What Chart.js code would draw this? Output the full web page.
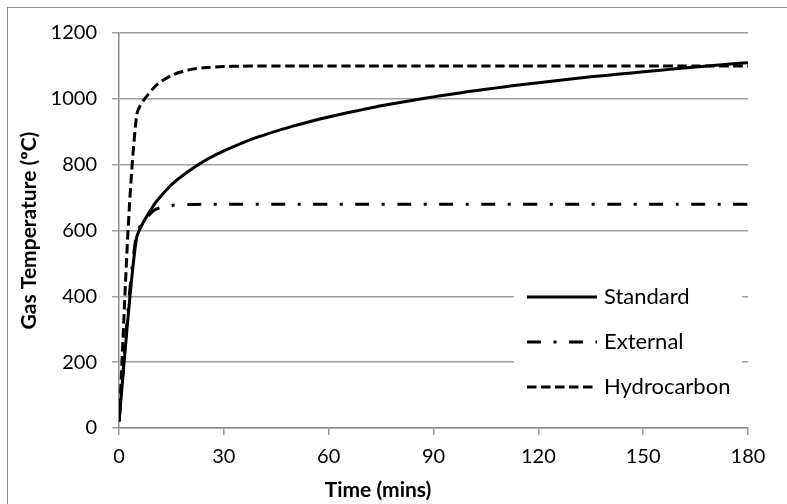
<!DOCTYPE html>
<html>
<head>
<meta charset="utf-8">
<script src="https://cdn.jsdelivr.net/npm/chart.js@4/dist/chart.umd.min.js"></script>
<style>
  html, body { margin: 0; padding: 0; background: #fff; overflow: hidden; }
  #wrap { position: relative; width: 787px; height: 504px; overflow: hidden; }
  #frame { position: absolute; left: 7px; top: 7px; width: 900px; height: 600px; border: 1px solid #8c8c8c; box-sizing: border-box; }
  canvas { position: absolute; left: 0; top: 0; }
</style>
</head>
<body>
<div id="wrap">
  <div id="frame"></div>
  <canvas id="chart" width="787" height="504"></canvas>
</div>
<script>
// time in minutes, every 5 min
const times = [0, 5, 10, 15, 20, 25, 30, 35, 40, 45, 50, 55, 60, 65, 70, 75, 80, 85, 90,
  95, 100, 105, 110, 115, 120, 125, 130, 135, 140, 145, 150, 155, 160, 165, 170, 175, 180];

const standard = [20, 576, 678, 739, 781, 815, 842, 865, 885, 902, 918, 932, 945, 957, 968, 979, 988, 997, 1006,
  1014, 1022, 1029, 1036, 1043, 1049, 1055, 1061, 1067, 1072, 1077, 1082, 1087, 1092, 1097, 1101, 1106, 1110];

const external = [20, 588, 661, 676, 679, 680, 680, 680, 680, 680, 680, 680, 680, 680, 680, 680, 680, 680, 680,
  680, 680, 680, 680, 680, 680, 680, 680, 680, 680, 680, 680, 680, 680, 680, 680, 680, 680];

const hydrocarbon = [20, 948, 1034, 1071, 1088, 1095, 1098, 1099, 1100, 1100, 1100, 1100, 1100, 1100, 1100, 1100, 1100, 1100, 1100,
  1100, 1100, 1100, 1100, 1100, 1100, 1100, 1100, 1100, 1100, 1100, 1100, 1100, 1100, 1100, 1100, 1100, 1100];

const seriesNames = ["Standard", "External", "Hydrocarbon"];
const xTitle = "Time (mins)";
const yTitle = "Gas Temperature (ºC)";

const FONT = "Lato";

function points(values) {
  return times.map((t, i) => ({ x: t, y: values[i] }));
}

function lineSet(label, values, dash, tension) {
  return {
    label: label,
    data: points(values),
    borderColor: "#000000",
    borderWidth: 3,
    borderDash: dash,
    borderCapStyle: "butt",
    pointRadius: 0,
    fill: false,
    tension: tension,
  };
}

// legend drawn inside the plot, on a white box
const insideLegend = {
  id: "insideLegend",
  afterDraw(chart) {
    const ctx = chart.ctx;
    ctx.save();
    ctx.fillStyle = "#ffffff";
    ctx.fillRect(514, 274, 228, 134);
    chart.data.datasets.forEach((ds, i) => {
      const y = 297 + i * 45;
      ctx.beginPath();
      ctx.setLineDash(ds.borderDash || []);
      ctx.lineDashOffset = 0;
      ctx.lineWidth = 3;
      ctx.strokeStyle = "#000";
      ctx.moveTo(527, y);
      ctx.lineTo(597, y);
      ctx.stroke();
      ctx.setLineDash([]);
      ctx.fillStyle = "#000";
      ctx.font = "22px " + FONT;
      ctx.textAlign = "left";
      ctx.textBaseline = "middle";
      ctx.fillText(ds.label, 604, y);
    });
    // x axis title, placed as in the original
    ctx.font = "bold 21px " + FONT;
    ctx.textAlign = "center";
    ctx.textBaseline = "middle";
    ctx.fillText(xTitle, 378, 490);
    ctx.restore();
  },
};

new Chart(document.getElementById("chart"), {
  type: "line",
  data: {
    datasets: [
      lineSet(seriesNames[0], standard, [], 0.2),
      lineSet(seriesNames[1], external, [14, 12.5, 3, 12.5], 0.25),
      lineSet(seriesNames[2], hydrocarbon, [9.5, 4.5], 0.3),
    ],
  },
  options: {
    responsive: false,
    animation: false,
    devicePixelRatio: 1,
    layout: { padding: { left: 0, top: 33, right: 39, bottom: 0 } },
    plugins: {
      legend: { display: false },
      tooltip: { enabled: false },
    },
    scales: {
      x: {
        type: "linear",
        min: 0,
        max: 180,
        afterFit: (scale) => { scale.height = 76; },
        ticks: {
          stepSize: 30,
          color: "#000",
          padding: 10,
          maxRotation: 0,
          font: { family: FONT, size: 20 },
          callback: (v) => String(v),
        },
        grid: {
          drawOnChartArea: false,
          drawTicks: true,
          tickLength: 7,
          color: "#9a9a9a",
          lineWidth: 1.5,
        },
        border: { display: true, color: "#8c8c8c", width: 1.5 },
      },
      y: {
        min: 0,
        max: 1200,
        afterFit: (scale) => { scale.width = 119; },
        ticks: {
          stepSize: 200,
          color: "#000",
          padding: 15,
          font: { family: FONT, size: 20 },
          callback: (v) => String(v),
        },
        grid: {
          tickLength: 7,
          color: "#a0a0a0",
          lineWidth: 1.5,
        },
        border: { display: true, color: "#8c8c8c", width: 1.5 },
        title: {
          display: true,
          text: yTitle,
          color: "#000",
          padding: { top: 17, bottom: 0 },
          font: { family: FONT, size: 21, weight: "bold" },
        },
      },
    },
  },
  plugins: [insideLegend],
});
</script>
</body>
</html>
